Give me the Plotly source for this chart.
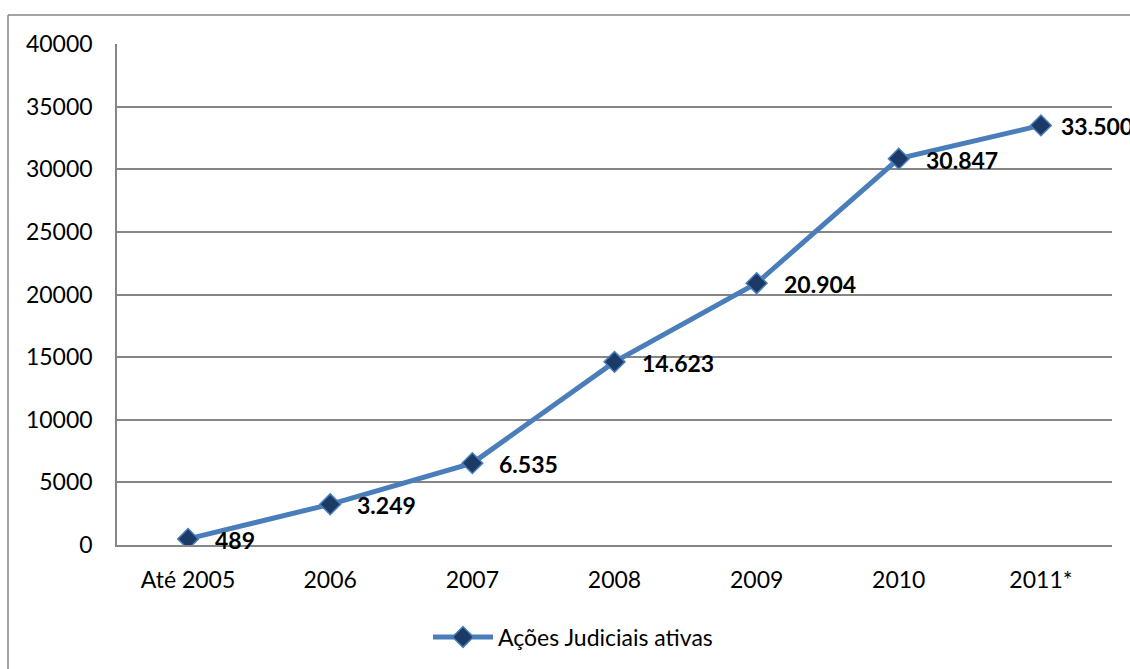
import plotly.graph_objects as go

categories = ["Até 2005", "2006", "2007", "2008", "2009", "2010", "2011*"]
values = [489, 3249, 6535, 14623, 20904, 30847, 33500]
value_labels = ["489", "3.249", "6.535", "14.623", "20.904", "30.847", "33.500"]
y_ticks = [0, 5000, 10000, 15000, 20000, 25000, 30000, 35000, 40000]
series_name = "Ações Judiciais ativas"

FONT = "Lato, Calibri, 'Open Sans', sans-serif"
GRID = "#868686"
LINE = "#4A7EBB"
MARK = "#1B3A66"

fig = go.Figure()
fig.add_trace(go.Scatter(
    x=list(range(len(categories))), y=values, name=series_name, mode="lines+markers",
    line=dict(color=LINE, width=5),
    marker=dict(symbol="diamond", size=16, color=MARK, line=dict(color=LINE, width=1.5)),
    showlegend=True,
))

annotations = []
n = len(categories)
for i, (v, t) in enumerate(zip(values, value_labels)):
    annotations.append(dict(
        x=i, y=v, xref="x", yref="y", text=t, showarrow=False,
        xanchor="left", yanchor="middle", xshift=(18 if i == n - 1 else 25), yshift=-1,
        font=dict(family=FONT, size=23, color="black", weight="bold"),
    ))

W, H = 1130, 669
L, R, T, B = 117, 18, 44, 123
pw, ph = W - L - R, H - T - B
def px(x):
    return (x - L) / pw
def py(y):
    return (H - B - y) / ph

shapes = [
    dict(type="line", xref="paper", yref="paper", x0=px(8), x1=px(1135), y0=py(15), y1=py(15),
         line=dict(color=GRID, width=1.5)),
    dict(type="line", xref="paper", yref="paper", x0=px(8), x1=px(8), y0=py(15), y1=py(675),
         line=dict(color=GRID, width=1.5)),
]

fig.update_layout(
    width=W, height=H,
    margin=dict(l=L, r=R, t=T, b=B),
    paper_bgcolor="white", plot_bgcolor="white",
    font=dict(family=FONT, size=23, color="black"),
    xaxis=dict(
        range=[-0.5, n - 0.5], tickvals=list(range(n)), ticktext=categories,
        showgrid=False, showline=True, linecolor=GRID, linewidth=1.5,
        ticks="outside", ticklen=14, tickcolor="rgba(0,0,0,0)",
        tickfont=dict(family=FONT, size=23), zeroline=False,
    ),
    yaxis=dict(
        range=[0, 40000], tickvals=y_ticks, ticktext=[str(v) for v in y_ticks],
        showgrid=True, gridcolor=GRID, gridwidth=1.5,
        showline=True, linecolor=GRID, linewidth=1.5, mirror=False,
        ticks="outside", ticklen=18, tickcolor="rgba(0,0,0,0)",
        tickfont=dict(family=FONT, size=23), zeroline=False,
    ),
    legend=dict(
        orientation="h", x=px(428), xanchor="left", y=py(637), yanchor="middle",
        font=dict(family=FONT, size=23), bgcolor="rgba(0,0,0,0)",
        itemwidth=60,
    ),
    annotations=annotations,
    shapes=shapes,
)

fig.write_html("out.html")
